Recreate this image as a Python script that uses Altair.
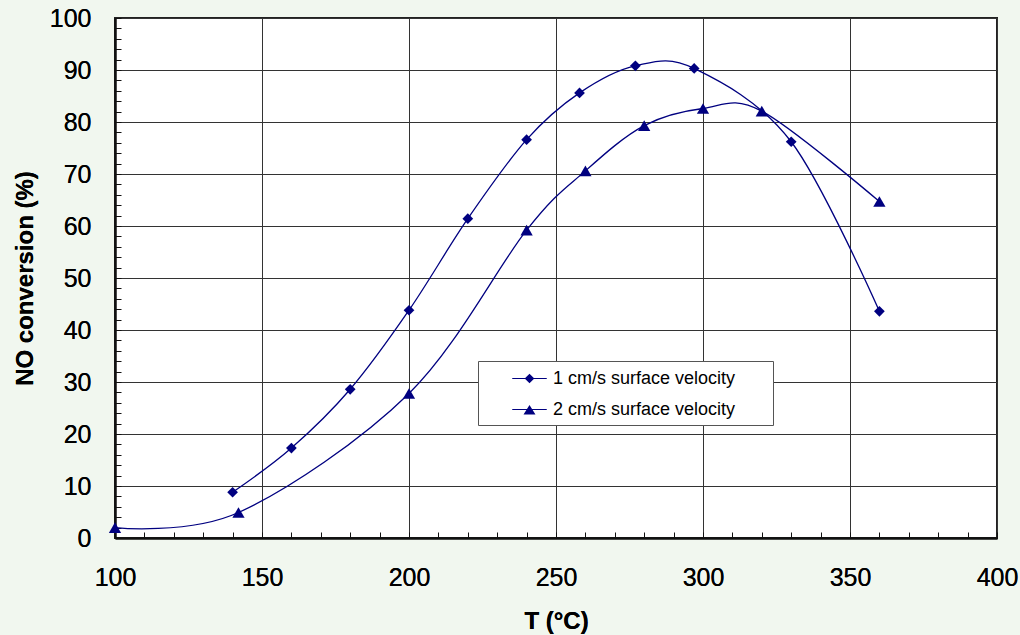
import altair as alt
import pandas as pd

# ---- data ----
s1_name = "1 cm/s surface velocity"
s1_T = [140, 160, 180, 200, 220, 240, 258, 277, 297, 330, 360]
s1_NO = [8.8, 17.3, 28.6, 43.8, 61.4, 76.6, 85.6, 90.8, 90.3, 76.2, 43.6]

s2_name = "2 cm/s surface velocity"
s2_T = [100, 142, 200, 240, 260, 280, 300, 320, 360]
s2_NO = [2.0, 4.9, 27.8, 59.2, 70.6, 79.3, 82.6, 82.1, 64.7]

series_names = [s1_name, s2_name]
x_ticks = [100, 150, 200, 250, 300, 350, 400]
y_ticks = [0, 10, 20, 30, 40, 50, 60, 70, 80, 90, 100]
x_minor = list(range(100, 401, 10))
y_minor = list(range(0, 101, 2))

df = pd.concat([
    pd.DataFrame({"T": s1_T, "NO": s1_NO, "series": s1_name}),
    pd.DataFrame({"T": s2_T, "NO": s2_NO, "series": s2_name}),
], ignore_index=True)

NAVY = "#000080"
FONT = "Liberation Sans"

xscale = alt.Scale(domain=[100, 400], nice=False, zero=False)
yscale = alt.Scale(domain=[0, 100], nice=False)

x_main = alt.Axis(values=x_ticks, grid=True, gridColor="#333333", gridWidth=1,
                  domainColor="#111111", domainWidth=2, ticks=False, format="d",
                  labelFlush=False, labelOverlap=False,
                  labelFont=FONT, labelFontSize=25, labelColor="black", labelPadding=27,
                  title="T (°C)", titleFont=FONT, titleFontSize=24, titleFontWeight="bold",
                  titleColor="black", titlePadding=19, orient="bottom")
y_main = alt.Axis(values=y_ticks, grid=True, gridColor="#333333", gridWidth=1,
                  domainColor="#111111", domainWidth=2, ticks=False, format="d",
                  labelFlush=False, labelOverlap=False,
                  labelFont=FONT, labelFontSize=25, labelColor="black", labelPadding=24,
                  title="NO conversion (%)", titleFont=FONT, titleFontSize=24,
                  titleFontWeight="bold", titleColor="black", titlePadding=12, orient="left")

x_min_axis = alt.Axis(values=x_minor, grid=False, domain=False, labels=False, ticks=True,
                      tickSize=6, tickColor="#111111", tickWidth=1, offset=-6, title=None,
                      orient="bottom")
y_min_axis = alt.Axis(values=y_minor, grid=False, domain=False, labels=False, ticks=True,
                      tickSize=6, tickColor="#111111", tickWidth=1, offset=-6, title=None,
                      orient="left")

base = alt.Chart(df)

lines = base.mark_line(interpolate="cardinal", tension=0, color=NAVY, strokeWidth=1.3).encode(
    x=alt.X("T:Q", scale=xscale, axis=x_main),
    y=alt.Y("NO:Q", scale=yscale, axis=y_main),
    detail="series:N",
)

points = base.mark_point(filled=True, color=NAVY, opacity=1).encode(
    x=alt.X("T:Q", scale=xscale, axis=x_main),
    y=alt.Y("NO:Q", scale=yscale, axis=y_main),
    shape=alt.Shape("series:N", scale=alt.Scale(domain=series_names,
                                               range=["diamond", "triangle-up"]), legend=None),
    size=alt.Size("series:N", scale=alt.Scale(domain=series_names, range=[115, 150]), legend=None),
)

# legend glyphs: a short line segment (thin filled bar) with the marker on it
legend_paths = [
    "M-1.5,-0.05L1.5,-0.05L1.5,0.05L-1.5,0.05Z M0,-0.42L0.42,0L0,0.42L-0.42,0Z",
    "M-1.5,-0.05L1.5,-0.05L1.5,0.05L-1.5,0.05Z M0,-0.4L0.52,0.44L-0.52,0.44Z",
]

legend_layer = base.mark_point(filled=True, color=NAVY, opacity=1).encode(
    x=alt.X("T:Q", scale=xscale, axis=x_min_axis),
    y=alt.Y("NO:Q", scale=yscale, axis=y_min_axis),
    shape=alt.Shape("series:N", scale=alt.Scale(domain=series_names, range=legend_paths),
                    legend=alt.Legend(
                        title=None, orient="none", legendX=363, legendY=343,
                        fillColor="white", strokeColor="#555555", padding=6,
                        symbolSize=529, symbolOffset=34, labelOffset=12,
                        symbolFillColor=NAVY, symbolStrokeWidth=0,
                        rowPadding=10, labelFont=FONT, labelFontSize=18, labelColor="black",
                        labelExpr="datum.label + '\u2800 \u2800'",
                        labelLimit=400,
                    )),
).transform_filter("false")

chart = alt.layer(lines, points, legend_layer).resolve_scale(
    shape="independent", size="independent"
).resolve_axis(
    x="independent", y="independent"
).properties(
    width=882, height=520,
    autosize=alt.AutoSizeParams(type="none"),
    padding={"left": 115, "top": 18, "right": 23, "bottom": 97},
    background="#f1f7ef",
).configure_view(
    stroke="#222222", strokeWidth=2, fill="white"
)

chart.save("out.html", embed_options={"renderer": "svg", "actions": False})
